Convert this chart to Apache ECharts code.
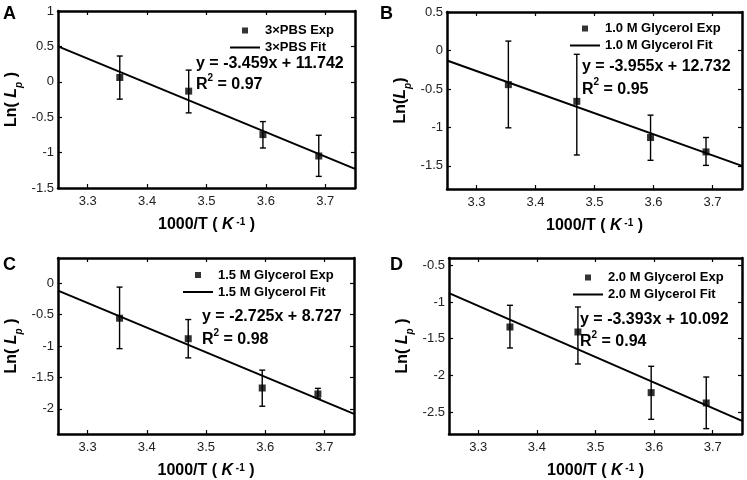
<!DOCTYPE html>
<html>
<head>
<meta charset="utf-8">
<script src="https://cdn.jsdelivr.net/npm/echarts@6/dist/echarts.min.js"></script>
<style>
html,body{margin:0;padding:0;background:#fff;}
#chart{width:747px;height:480px;}
</style>
</head>
<body>
<div id="chart"></div>
<script>
// ---------- data ----------
const panelLetters = ['A', 'B', 'C', 'D'];
const xValues = [3.354, 3.470, 3.595, 3.689];
const xTicks = [3.3, 3.4, 3.5, 3.6, 3.7];
const xRange = [3.25, 3.75];

const expNames = ['3×PBS Exp', '1.0 M Glycerol Exp', '1.5 M Glycerol Exp', '2.0 M Glycerol Exp'];
const fitNames = ['3×PBS Fit', '1.0 M Glycerol Fit', '1.5 M Glycerol Fit', '2.0 M Glycerol Fit'];

const expA = [0.061, -0.132, -0.746, -1.048];
const lowA = [-0.245, -0.439, -0.935, -1.336];
const highA = [0.364, 0.165, -0.562, -0.755];

const expB = [-0.444, -0.661, -1.131, -1.318];
const lowB = [-1.005, -1.358, -1.427, -1.493];
const highB = [0.122, -0.05, -0.840, -1.131];

const expC = [-0.558, -0.884, -1.668, -1.763];
const lowC = [-1.042, -1.189, -1.958, -1.832];
const highC = [-0.063, -0.579, -1.384, -1.674];

const expD = [-1.341, -1.409, -2.236, -2.377];
const lowD = [-1.627, -1.845, -2.600, -2.727];
const highD = [-1.045, -1.068, -1.877, -2.023];

// fitted line values read at the two x-axis ends (3.25, 3.75)
const fitA = [0.50, -1.23];
const fitB = [-0.13, -1.50];
const fitC = [-0.12, -2.08];
const fitD = [-0.88, -2.62];

const yRanges = [[-1.5, 1], [-1.8, 0.5], [-2.4, 0.4], [-2.8, -0.4]];
const yTicksA = [-1.5, -1, -0.5, 0, 0.5, 1];
const yTicksB = [-1.5, -1, -0.5, 0, 0.5];
const yTicksC = [-2, -1.5, -1, -0.5, 0];
const yTicksD = [-2.5, -2, -1.5, -1, -0.5];

const eqTexts = ['y = -3.459x + 11.742', 'y = -3.955x + 12.732', 'y = -2.725x + 8.727', 'y = -3.393x + 10.092'];
const r2Texts = ['0.97', '0.95', '0.98', '0.94'];

// ---------- layout ----------
const FONT = "'Liberation Sans', Arial, Helvetica, sans-serif";
const grids = [
  {left: 58, top: 11, width: 297, height: 177},
  {left: 447, top: 12, width: 295, height: 177},
  {left: 58, top: 258, width: 296, height: 177},
  {left: 449, top: 258, width: 293, height: 177}
];
const legendPos = [
  {left: 230, top: 23.5},
  {left: 570, top: 21.5},
  {left: 183, top: 268},
  {left: 573, top: 270.5}
];
const eqPos = [
  {x: 196, y: 64, y2: 83},
  {x: 582, y: 67, y2: 87.5},
  {x: 202, y: 317, y2: 338},
  {x: 580, y: 320, y2: 340}
];
const letterPos = [{x: 3, y: 14}, {x: 380, y: 14}, {x: 3, y: 265}, {x: 390, y: 265}];
const yNames = [
  '{b|Ln( }{i|L}{sub|p}{b| )}',
  '{b|Ln(}{i|L}{sub|p}{b|)}',
  '{b|Ln( }{i|L}{sub|p}{b| )}',
  '{b|Ln( }{i|L}{sub|p}{b| )}'
];

const panels = [
  {exp: expA, low: lowA, high: highA, fit: fitA, yTicks: yTicksA},
  {exp: expB, low: lowB, high: highB, fit: fitB, yTicks: yTicksB},
  {exp: expC, low: lowC, high: highC, fit: fitC, yTicks: yTicksC},
  {exp: expD, low: lowD, high: highD, fit: fitD, yTicks: yTicksD}
];

// legend icons drawn inside a 30x7 box
const ICON_SQUARE = 'path://M0,0L0,0M30,7L30,7M12,0.5L18,0.5L18,6.5L12,6.5Z';
const ICON_LINE = 'path://M0,0L0,0M30,7L30,7M0,2.5L30,2.5L30,4.5L0,4.5Z';

const lineW = 2.5;
const richBase = {
  b: {fontFamily: FONT, fontWeight: 'bold', fontSize: 16, color: '#000', verticalAlign: 'top', lineHeight: 20},
  i: {fontFamily: FONT, fontWeight: 'bold', fontStyle: 'italic', fontSize: 16, color: '#000', verticalAlign: 'top', lineHeight: 20},
  sup: {fontFamily: FONT, fontWeight: 'bold', fontSize: 10, color: '#000', verticalAlign: 'top', lineHeight: 20},
  sub: {fontFamily: FONT, fontWeight: 'bold', fontStyle: 'italic', fontSize: 10, color: '#000', verticalAlign: 'bottom', lineHeight: 20}
};

function fitLineData(fit) {
  return [[xRange[0], fit[0]], [xRange[1], fit[1]]];
}

const option = {
  backgroundColor: '#fff',
  animation: false,
  grid: [], xAxis: [], yAxis: [], series: [], legend: [], graphic: []
};

panels.forEach((p, k) => {
  option.grid.push(Object.assign({containLabel: false}, grids[k]));
  const tickStyle = {show: true, inside: true, length: 4, lineStyle: {color: '#000', width: 1.2}};
  option.xAxis.push({
    type: 'value', gridIndex: k, position: 'bottom', min: xRange[0], max: xRange[1],
    axisLine: {onZero: false, lineStyle: {color: '#000', width: lineW}},
    axisTick: Object.assign({customValues: xTicks}, tickStyle),
    axisLabel: {customValues: xTicks, color: '#222', fontFamily: FONT, fontSize: 13, margin: 7},
    splitLine: {show: false},
    name: '{b|1000/T ( }{i|K}{sup| -1}{b| )}',
    nameLocation: 'middle', nameGap: 29,
    nameTextStyle: {rich: richBase}
  });
  option.xAxis.push({
    type: 'value', gridIndex: k, position: 'top', min: xRange[0], max: xRange[1],
    axisLine: {onZero: false, lineStyle: {color: '#000', width: lineW}},
    axisTick: Object.assign({customValues: xTicks}, tickStyle),
    axisLabel: {show: false}, splitLine: {show: false}
  });
  option.yAxis.push({
    type: 'value', gridIndex: k, position: 'left', min: yRanges[k][0], max: yRanges[k][1],
    axisLine: {onZero: false, lineStyle: {color: '#000', width: lineW}},
    axisTick: Object.assign({customValues: p.yTicks}, tickStyle),
    axisLabel: {customValues: p.yTicks, color: '#222', fontFamily: FONT, fontSize: 13, margin: 4},
    splitLine: {show: false},
    name: yNames[k], nameLocation: 'middle', nameRotate: 90, nameGap: 34,
    nameTextStyle: {rich: richBase}
  });
  option.yAxis.push({
    type: 'value', gridIndex: k, position: 'right', min: yRanges[k][0], max: yRanges[k][1],
    axisLine: {onZero: false, lineStyle: {color: '#000', width: lineW}},
    axisTick: Object.assign({customValues: p.yTicks}, tickStyle),
    axisLabel: {show: false}, splitLine: {show: false}
  });

  const xi = 2 * k, yi = 2 * k;
  option.series.push({
    name: fitNames[k], type: 'line', xAxisIndex: xi, yAxisIndex: yi,
    data: fitLineData(p.fit), showSymbol: false, symbol: 'none',
    lineStyle: {color: '#000', width: 2}, itemStyle: {color: '#000'}, z: 3
  });
  option.series.push({
    name: expNames[k] + ' err', type: 'custom', xAxisIndex: xi, yAxisIndex: yi,
    data: xValues.map((x, j) => [x, p.low[j], p.high[j]]),
    encode: {x: 0, y: [1, 2]},
    renderItem: function (params, api) {
      const x = api.value(0);
      const a = api.coord([x, api.value(1)]);
      const b = api.coord([x, api.value(2)]);
      const hw = 3;
      const st = {stroke: '#000', lineWidth: 1.4};
      return {type: 'group', children: [
        {type: 'line', shape: {x1: a[0], y1: a[1], x2: b[0], y2: b[1]}, style: st},
        {type: 'line', shape: {x1: a[0] - hw, y1: a[1], x2: a[0] + hw, y2: a[1]}, style: st},
        {type: 'line', shape: {x1: b[0] - hw, y1: b[1], x2: b[0] + hw, y2: b[1]}, style: st}
      ]};
    },
    z: 4
  });
  option.series.push({
    name: expNames[k], type: 'scatter', xAxisIndex: xi, yAxisIndex: yi,
    data: xValues.map((x, j) => [x, p.exp[j]]),
    symbol: 'rect', symbolSize: 7, itemStyle: {color: '#000'}, z: 5
  });

  option.legend.push({
    data: [{name: expNames[k], icon: ICON_SQUARE}, {name: fitNames[k], icon: ICON_LINE}],
    orient: 'vertical', left: legendPos[k].left, top: legendPos[k].top,
    itemWidth: 30, itemHeight: 7, itemGap: 3, padding: 0,
    itemStyle: {color: '#000', borderWidth: 0},
    textStyle: {fontFamily: FONT, fontWeight: 'bold', fontSize: 13, color: '#000', lineHeight: 14}
  });

  option.graphic.push({
    type: 'text', x: eqPos[k].x, y: eqPos[k].y,
    style: {text: eqTexts[k], font: 'bold 16px ' + FONT, fill: '#000', verticalAlign: 'middle', align: 'left'}
  });
  option.graphic.push({
    type: 'text', x: eqPos[k].x, y: eqPos[k].y2,
    style: {
      text: '{t|R}{s|2}{t| = ' + r2Texts[k] + '}', verticalAlign: 'middle', align: 'left',
      rich: {
        t: {font: 'bold 16px ' + FONT, fill: '#000', verticalAlign: 'bottom', lineHeight: 20},
        s: {font: 'bold 10px ' + FONT, fill: '#000', verticalAlign: 'top', lineHeight: 20}
      }
    }
  });
  option.graphic.push({
    type: 'text', x: letterPos[k].x, y: letterPos[k].y,
    style: {text: panelLetters[k], font: 'bold 18px ' + FONT, fill: '#000', verticalAlign: 'middle', align: 'left'}
  });
});

const chart = echarts.init(document.getElementById('chart'), null, {renderer: 'canvas'});
chart.setOption(option);
</script>
</body>
</html>
